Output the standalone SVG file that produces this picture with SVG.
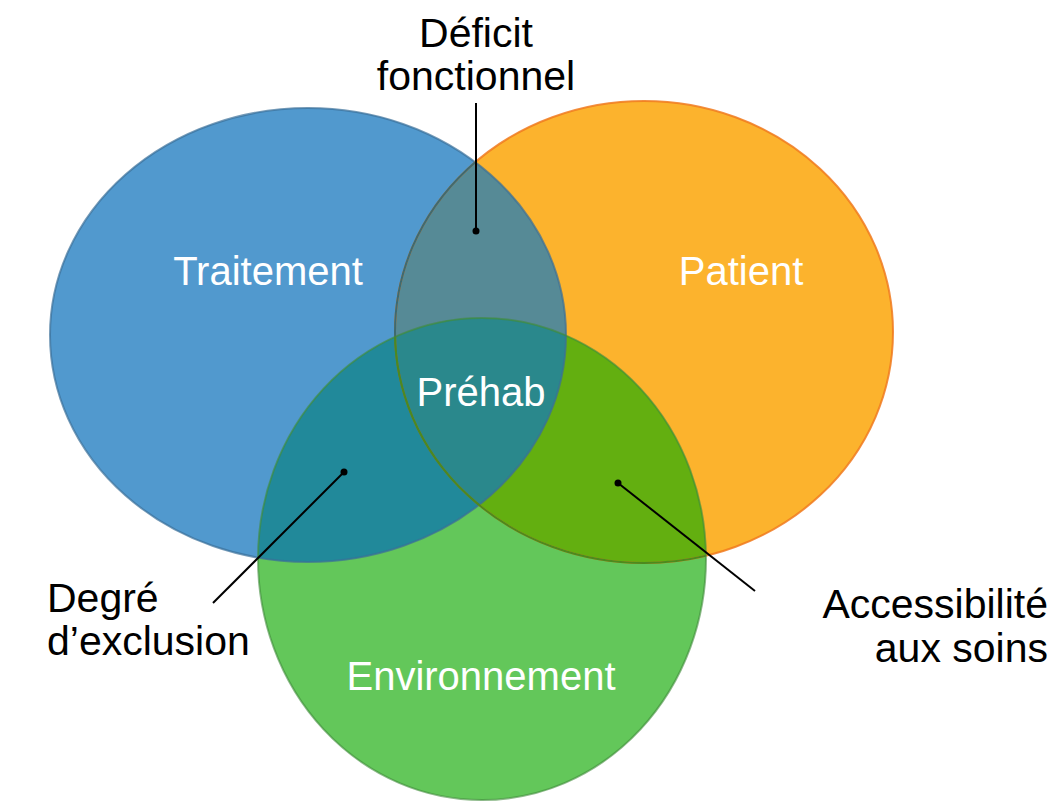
<svg xmlns="http://www.w3.org/2000/svg" width="1061" height="804" viewBox="0 0 1061 804">
<style>
.lbl{font-family:"Liberation Sans",Arial,sans-serif;font-size:40px;fill:#ffffff;text-anchor:middle}
.note{font-family:"Liberation Sans",Arial,sans-serif;font-size:41px;fill:#000000}
.lead{stroke:#000;stroke-width:2;fill:none}
.edge{fill:none;stroke-width:2}
</style>
<defs>
<clipPath id="cB"><ellipse cx="308" cy="335" rx="258" ry="227"/></clipPath>
<clipPath id="cO"><ellipse cx="644" cy="332" rx="249" ry="231"/></clipPath>
<clipPath id="cG"><ellipse cx="482" cy="559" rx="224" ry="241"/></clipPath>
</defs>
<rect width="1061" height="804" fill="#ffffff"/>
<g id="traitement">
<ellipse cx="308" cy="335" rx="258" ry="227" fill="#5199CE"/>
</g>
<g id="patient">
<ellipse cx="644" cy="332" rx="249" ry="231" fill="#FCB32D"/>
</g>
<g id="environnement">
<ellipse cx="482" cy="559" rx="224" ry="241" fill="#63C75A"/>
</g>
<g id="overlaps">
<g clip-path="url(#cB)"><ellipse cx="644" cy="332" rx="249" ry="231" fill="#568A96"/></g>
<g clip-path="url(#cB)"><ellipse cx="482" cy="559" rx="224" ry="241" fill="#21899A"/></g>
<g clip-path="url(#cO)"><ellipse cx="482" cy="559" rx="224" ry="241" fill="#63AF10"/></g>
<g clip-path="url(#cB)"><g clip-path="url(#cO)"><ellipse cx="482" cy="559" rx="224" ry="241" fill="#2A888C"/></g></g>
</g>
<g id="edges">
<ellipse class="edge" cx="308" cy="335" rx="258" ry="227" stroke="#3A6F99" stroke-opacity="0.7"/>
<ellipse class="edge" cx="644" cy="332" rx="249" ry="231" stroke="#F07A1E" stroke-opacity="0.85"/>
<g clip-path="url(#cB)"><ellipse class="edge" cx="644" cy="332" rx="249" ry="231" stroke="#3E6A70"/></g>
<g clip-path="url(#cG)"><ellipse class="edge" cx="644" cy="332" rx="249" ry="231" stroke="#4C8A1E"/></g>
<ellipse class="edge" cx="482" cy="559" rx="224" ry="241" stroke="#3F8A3A" stroke-opacity="0.6"/>
</g>
<g id="labels">
<text class="lbl" x="268" y="285">Traitement</text>
<text class="lbl" x="741" y="285">Patient</text>
<text class="lbl" x="481" y="406">Préhab</text>
<text class="lbl" x="481" y="690">Environnement</text>
</g>
<g id="connectors">
<line class="lead" x1="476" y1="103" x2="476" y2="231"/>
<circle cx="476" cy="231" r="3.5" fill="#000"/>
<line class="lead" x1="344" y1="472" x2="213" y2="603"/>
<circle cx="344" cy="472" r="3.5" fill="#000"/>
<line class="lead" x1="618" y1="483" x2="755" y2="591"/>
<circle cx="618" cy="483" r="3.5" fill="#000"/>
</g>
<g id="deficit">
<text class="note" x="476" y="47" text-anchor="middle">Déficit</text>
<text class="note" x="476" y="90" text-anchor="middle">fonctionnel</text>
</g>
<g id="degre">
<text class="note" x="47" y="612">Degré</text>
<text class="note" x="47" y="655">d’exclusion</text>
</g>
<g id="accessibilite">
<text class="note" x="1048" y="618" text-anchor="end">Accessibilité</text>
<text class="note" x="1048" y="662" text-anchor="end">aux soins</text>
</g>
</svg>
